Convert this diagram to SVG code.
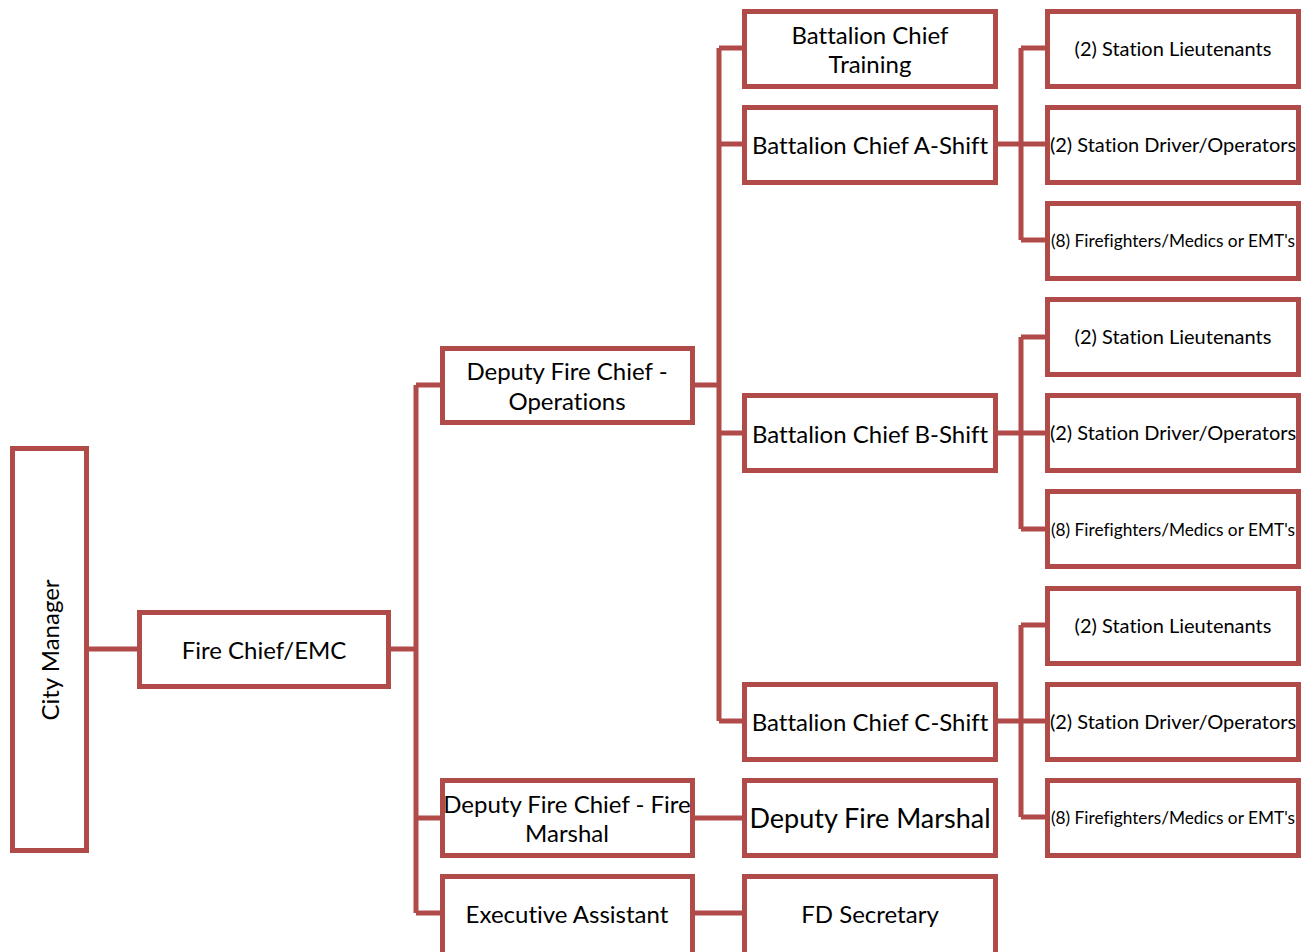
<svg xmlns="http://www.w3.org/2000/svg" width="1304" height="952" viewBox="0 0 1304 952">
  <style>
    .box { fill: #ffffff; stroke: #b04b49; stroke-width: 5; }
    .link { fill: none; stroke: #b04b49; stroke-width: 5; }
    text { font-family: Lato, "Open Sans", sans-serif; fill: #000000; text-anchor: middle; dominant-baseline: central; font-variant-ligatures: none; }
    .t24 { font-size: 24px; }
    .t27 { font-size: 27px; }
    .t20 { font-size: 20px; }
    .t17 { font-size: 17.3px; }
  </style>
  <rect width="1304" height="952" fill="#ffffff"/>

  <!-- connectors -->
  <g id="connectors">
    <path class="link" d="M89 649 H137"/>
    <path class="link" d="M391 649 H416 M416 385 V913 M416 385 H440 M416 818 H440 M416 913 H440"/>
    <path class="link" d="M695 385 H719 M719 48 V721 M719 48 H742 M719 144 H742 M719 433 H742 M719 721 H742"/>
    <path class="link" d="M998 144 H1021 M1021 48 V240 M1021 48 H1045 M1021 144 H1045 M1021 240 H1045"/>
    <path class="link" d="M998 433 H1021 M1021 337 V529 M1021 337 H1045 M1021 433 H1045 M1021 529 H1045"/>
    <path class="link" d="M998 721 H1021 M1021 625 V817 M1021 625 H1045 M1021 721 H1045 M1021 817 H1045"/>
    <path class="link" d="M695 818 H742"/>
    <path class="link" d="M695 913 H742"/>
  </g>

  <g id="city-manager">
    <rect class="box" x="12.5" y="448.5" width="74" height="402"/>
    <text class="t24" transform="translate(49 650) rotate(-90)">City Manager</text>
  </g>
  <g id="fire-chief">
    <rect class="box" x="139.5" y="612.5" width="249" height="74"/>
    <text class="t24" x="264" y="649">Fire Chief/EMC</text>
  </g>
  <g id="deputy-operations">
    <rect class="box" x="442.5" y="348.5" width="250" height="74"/>
    <text class="t24" x="567" y="370">Deputy Fire Chief -</text>
    <text class="t24" x="567" y="400">Operations</text>
  </g>
  <g id="deputy-fire-marshal-chief">
    <rect class="box" x="442.5" y="780.5" width="250" height="75"/>
    <text class="t24" x="567" y="803">Deputy Fire Chief - Fire</text>
    <text class="t24" x="567" y="832">Marshal</text>
  </g>
  <g id="executive-assistant">
    <rect class="box" x="442.5" y="876.5" width="250" height="80"/>
    <text class="t24" x="567" y="913">Executive Assistant</text>
  </g>

  <g id="bc-training">
    <rect class="box" x="744.5" y="11.5" width="251" height="75"/>
    <text class="t24" x="870" y="34">Battalion Chief</text>
    <text class="t24" x="870" y="63">Training</text>
  </g>
  <g id="bc-a">
    <rect class="box" x="744.5" y="107.5" width="251" height="75"/>
    <text class="t24" x="870" y="144">Battalion Chief A-Shift</text>
  </g>
  <g id="bc-b">
    <rect class="box" x="744.5" y="395.5" width="251" height="75"/>
    <text class="t24" x="870" y="433">Battalion Chief B-Shift</text>
  </g>
  <g id="bc-c">
    <rect class="box" x="744.5" y="684.5" width="251" height="75"/>
    <text class="t24" x="870" y="721">Battalion Chief C-Shift</text>
  </g>
  <g id="deputy-fire-marshal">
    <rect class="box" x="744.5" y="780.5" width="251" height="75"/>
    <text class="t27" x="870" y="817">Deputy Fire Marshal</text>
  </g>
  <g id="fd-secretary">
    <rect class="box" x="744.5" y="876.5" width="251" height="80"/>
    <text class="t24" x="870" y="913">FD Secretary</text>
  </g>

  <!-- A-shift crew -->
  <g id="a-lieutenants">
    <rect class="box" x="1047.5" y="11.5" width="251" height="75"/>
    <text class="t20" x="1173" y="48">(2) Station Lieutenants</text>
  </g>
  <g id="a-drivers">
    <rect class="box" x="1047.5" y="107.5" width="251" height="75"/>
    <text class="t20" x="1173" y="144">(2) Station Driver/Operators</text>
  </g>
  <g id="a-firefighters">
    <rect class="box" x="1047.5" y="203.5" width="251" height="75"/>
    <text class="t17" x="1173" y="240">(8) Firefighters/Medics or EMT's</text>
  </g>

  <!-- B-shift crew -->
  <g id="b-lieutenants">
    <rect class="box" x="1047.5" y="299.5" width="251" height="75"/>
    <text class="t20" x="1173" y="336">(2) Station Lieutenants</text>
  </g>
  <g id="b-drivers">
    <rect class="box" x="1047.5" y="395.5" width="251" height="75"/>
    <text class="t20" x="1173" y="432">(2) Station Driver/Operators</text>
  </g>
  <g id="b-firefighters">
    <rect class="box" x="1047.5" y="491.5" width="251" height="75"/>
    <text class="t17" x="1173" y="529">(8) Firefighters/Medics or EMT's</text>
  </g>

  <!-- C-shift crew -->
  <g id="c-lieutenants">
    <rect class="box" x="1047.5" y="588.5" width="251" height="75"/>
    <text class="t20" x="1173" y="625">(2) Station Lieutenants</text>
  </g>
  <g id="c-drivers">
    <rect class="box" x="1047.5" y="684.5" width="251" height="75"/>
    <text class="t20" x="1173" y="721">(2) Station Driver/Operators</text>
  </g>
  <g id="c-firefighters">
    <rect class="box" x="1047.5" y="780.5" width="251" height="75"/>
    <text class="t17" x="1173" y="817">(8) Firefighters/Medics or EMT's</text>
  </g>
</svg>
